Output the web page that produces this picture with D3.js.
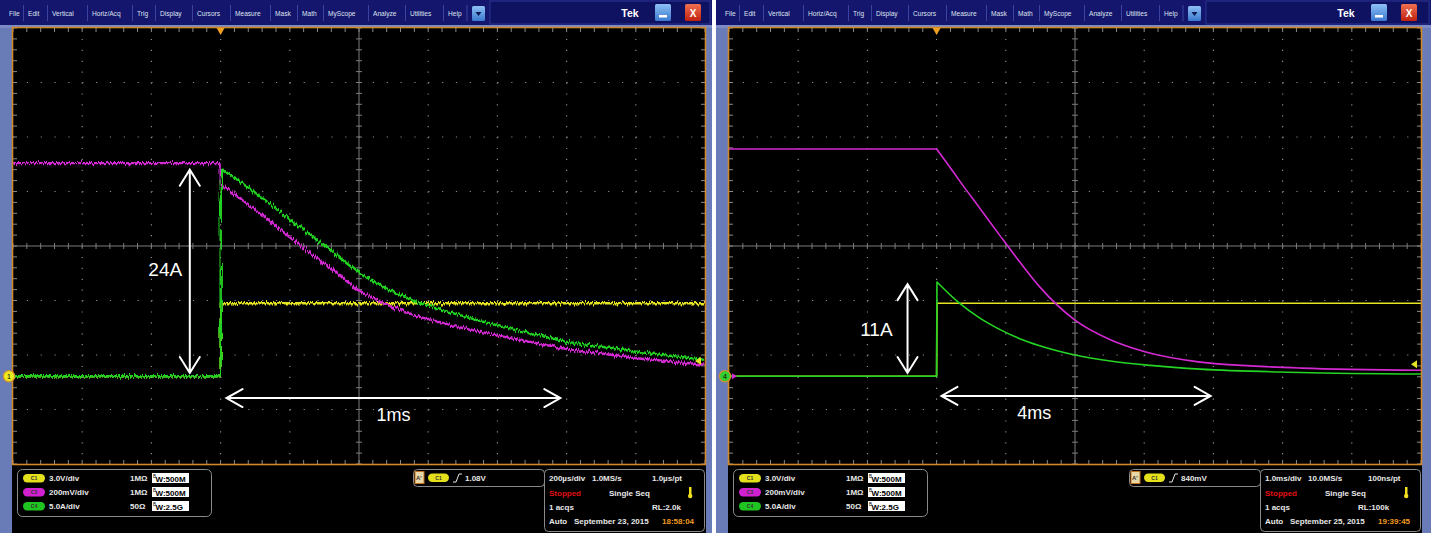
<!DOCTYPE html>
<html><head><meta charset="utf-8">
<script src="https://cdn.jsdelivr.net/npm/d3@7"></script>
<style>body{margin:0;background:#fff;}svg{display:block}</style>
</head><body>
<svg id="c" width="1431" height="533"></svg>
<script>
// ---------------- DATA ----------------
const menuItems = ["File","Edit","Vertical","Horiz/Acq","Trig","Display","Cursors","Measure","Mask","Math","MyScope","Analyze","Utilities","Help"];
const chanNames = ["C1","C3","C4"];
const chanScales = ["3.0V/div","200mV/div","5.0A/div"];
const chanImpedance = ["1MΩ","1MΩ","50Ω"];
const chanBW = ["500M","500M","2.5G"];

// screen 1 (time in µs, values in divisions from centre)
const s1Yellow  = [[-600,-2.39],[0,-2.39],[0.5,-1.05],[1400,-1.05]];
const s1Magenta = [[-600,1.52],[0,1.52],[0.5,1.14],[20,1.04],[113,0.61],[202,0.15],[315,-0.39],[401,-0.83],[488,-1.10],[574,-1.30],[690,-1.49],[805,-1.65],[1001,-1.89],[1203,-2.06],[1400,-2.18]];
const s1Green   = [[-600,-2.39],[0,-2.39],[0.5,1.20],[10,1.40],[113,0.92],[202,0.48],[315,-0.07],[401,-0.50],[488,-0.81],[574,-1.05],[690,-1.27],[805,-1.47],[1001,-1.76],[1203,-1.94],[1400,-2.09]];
// screen 2 (time in ms)
const s2Yellow  = [[-3,-2.39],[0,-2.39],[0.005,-1.05],[7,-1.05]];
const s2Magenta = [[-3,1.78],[0,1.78],[0,1.78],[0.19,1.45],[0.33,1.20],[0.62,0.70],[0.91,0.20],[1.20,-0.29],[1.49,-0.75],[2.0,-1.36],[2.51,-1.72],[3.01,-1.94],[3.81,-2.13],[4.54,-2.20],[5.26,-2.24],[7.0,-2.28]];
const s2Green   = [[-3,-2.39],[0,-2.39],[0.005,-0.66],[0.33,-1.05],[0.62,-1.32],[0.91,-1.53],[1.20,-1.70],[1.49,-1.83],[2.0,-2.0],[2.51,-2.11],[3.09,-2.19],[3.81,-2.26],[5.26,-2.32],[7.0,-2.35]];

const screens = [
  {ox:0, w:712, divT:200, noisy:true,
   yellow:s1Yellow, magenta:s1Magenta, green:s1Green,
   marker:{label:"1", color:"#ecec20", level:-2.39, arrow:false}, trigLevel:-2.11,
   vArrow:{t:-89, v0:1.40, v1:-2.33}, vLabel:{t:-160, v:-0.55, text:"24A"},
   hArrow:{t0:17, t1:982, v:-2.79}, hLabel:{t:500, v:-3.22, text:"1ms"},
   trig:"1.08V", tb:["200µs/div","1.0MS/s","1.0µs/pt"], rl:"RL:2.0k",
   date:"September 23, 2015", time:"18:58:04"},
  {ox:716, w:715, divT:1, noisy:false,
   yellow:s2Yellow, magenta:s2Magenta, green:s2Green,
   marker:{label:"4", color:"#30d030", level:-2.39, arrow:true}, trigLevel:-2.17,
   vArrow:{t:-0.42, v0:-0.70, v1:-2.33}, vLabel:{t:-0.87, v:-1.65, text:"11A"},
   hArrow:{t0:0.07, t1:3.96, v:-2.75}, hLabel:{t:1.41, v:-3.17, text:"4ms"},
   trig:"840mV", tb:["1.0ms/div","10.0MS/s","100ns/pt"], rl:"RL:100k",
   date:"September 25, 2015", time:"19:39:45"}
];

// ---------------- STYLE / LAYOUT ----------------
const menuX = [9,28,52,92,137,160,197,235,275,302,328,373,410,448];
const FONT = "'Liberation Sans', Arial, sans-serif";
const svg = d3.select("#c");
svg.append("rect").attr("width",1431).attr("height",533).attr("fill","#fff");
const defs = svg.append("defs");
const f = defs.append("filter").attr("id","jit").attr("filterUnits","userSpaceOnUse")
  .attr("x",0).attr("y",20).attr("width",720).attr("height",450);
f.append("feTurbulence").attr("type","fractalNoise").attr("baseFrequency","0.75 0.05")
  .attr("numOctaves",2).attr("seed",4).attr("result","n");
f.append("feDisplacementMap").attr("in","SourceGraphic").attr("in2","n").attr("scale",6.5)
  .attr("xChannelSelector","B").attr("yChannelSelector","G");
const gb = defs.append("linearGradient").attr("id","btnBlue").attr("x1",0).attr("y1",0).attr("x2",0).attr("y2",1);
gb.append("stop").attr("offset",0).attr("stop-color","#8ec0f4");
gb.append("stop").attr("offset",1).attr("stop-color","#3a78d0");
const gr = defs.append("linearGradient").attr("id","btnRed").attr("x1",0).attr("y1",0).attr("x2",0).attr("y2",1);
gr.append("stop").attr("offset",0).attr("stop-color","#f07050");
gr.append("stop").attr("offset",1).attr("stop-color","#c02010");

const pillColors = ["#e4e01c","#d020d0","#20c420"];

screens.forEach(S => {
  const g = svg.append("g").attr("transform",`translate(${S.ox},0)`);
  const W = S.w;
  const pl = 13, pr = 13+692, pt = 28, pb = 464;
  // frame
  g.append("rect").attr("width",W).attr("height",533).attr("fill","#6a7cb8");
  g.append("rect").attr("x",12).attr("y",464).attr("width",pr-11).attr("height",69).attr("fill","#000");
  // menu bar
  g.append("rect").attr("width",W).attr("height",25).attr("fill","#13166c");
  g.append("rect").attr("x",0).attr("y",25).attr("width",W).attr("height",3).attr("fill","#7d8cc6");
  g.append("rect").attr("x",490).attr("y",1).attr("width",W-492).attr("height",23).attr("fill","#0f1260").attr("stroke","#2c3590").attr("stroke-width",1);
  menuItems.forEach((m,i)=>{
    g.append("text").attr("x",menuX[i]).attr("y",15.5).attr("font-family",FONT).attr("font-size",6.6)
      .attr("fill","#dfe2f0").text(m);
    if(i>0) g.append("line").attr("x1",menuX[i]-4.5).attr("x2",menuX[i]-4.5).attr("y1",5).attr("y2",21)
      .attr("stroke","#3a44a0").attr("stroke-width",1);
  });
  g.append("line").attr("x1",467).attr("x2",467).attr("y1",5).attr("y2",21).attr("stroke","#3a44a0");
  g.append("rect").attr("x",472).attr("y",6).attr("width",13).attr("height",15).attr("rx",1.5).attr("fill","url(#btnBlue)");
  g.append("path").attr("d","M475.5,12 L481.5,12 L478.5,16 Z").attr("fill","#0a1a50");
  g.append("text").attr("x",630).attr("y",17).attr("text-anchor","middle").attr("font-family",FONT)
    .attr("font-weight","bold").attr("font-size",10.5).attr("fill","#fff").text("Tek");
  g.append("rect").attr("x",655).attr("y",4).attr("width",16).attr("height",17).attr("rx",1.5).attr("fill","url(#btnBlue)");
  g.append("rect").attr("x",659).attr("y",15).attr("width",8).attr("height",2.5).attr("fill","#fff");
  g.append("rect").attr("x",685).attr("y",4).attr("width",16).attr("height",17).attr("rx",1.5).attr("fill","url(#btnRed)");
  g.append("text").attr("x",693).attr("y",16.5).attr("text-anchor","middle").attr("font-family",FONT)
    .attr("font-weight","bold").attr("font-size",10).attr("fill","#fff").text("X");

  // plot
  g.append("rect").attr("x",pl).attr("y",pt).attr("width",pr-pl).attr("height",pb-pt).attr("fill","#000");
  const x = d3.scaleLinear().domain([-3*S.divT, 7*S.divT]).range([pl,pr]);
  const y = d3.scaleLinear().domain([-4,4]).range([pb,pt]);
  const minorX = d3.range(-15,36).map(k=>k*S.divT/5);
  const minorY = d3.range(-20,21).map(k=>k/5);
  const grid = g.append("g");
  // dotted major grid
  d3.range(-3,8).forEach(k=>{
    if(k===-3||k===7||k===2) return;
    grid.append("line").attr("x1",x(k*S.divT)).attr("x2",x(k*S.divT)).attr("y1",pt).attr("y2",pb)
      .attr("stroke","#8a8a8a").attr("stroke-width",1.2).attr("stroke-dasharray",`1.2 ${(pb-pt)/40-1.2}`);
  });
  d3.range(-4,5).forEach(k=>{
    if(k===-4||k===4||k===0) return;
    grid.append("line").attr("x1",pl).attr("x2",pr).attr("y1",y(k)).attr("y2",y(k))
      .attr("stroke","#8a8a8a").attr("stroke-width",1.2).attr("stroke-dasharray",`1.2 ${(pr-pl)/50-1.2}`);
  });
  // centre cross
  grid.append("line").attr("x1",pl).attr("x2",pr).attr("y1",y(0)).attr("y2",y(0)).attr("stroke","#7c7c7c");
  grid.append("line").attr("x1",x(2*S.divT)).attr("x2",x(2*S.divT)).attr("y1",pt).attr("y2",pb).attr("stroke","#7c7c7c");
  minorX.forEach(t=>{
    grid.append("line").attr("x1",x(t)).attr("x2",x(t)).attr("y1",y(0)-3).attr("y2",y(0)+3).attr("stroke","#7c7c7c");
    grid.append("line").attr("x1",x(t)).attr("x2",x(t)).attr("y1",pt).attr("y2",pt+4).attr("stroke","#8a8a8a");
    grid.append("line").attr("x1",x(t)).attr("x2",x(t)).attr("y1",pb-4).attr("y2",pb).attr("stroke","#8a8a8a");
  });
  minorY.forEach(v=>{
    grid.append("line").attr("x1",x(2*S.divT)-3).attr("x2",x(2*S.divT)+3).attr("y1",y(v)).attr("y2",y(v)).attr("stroke","#7c7c7c");
    grid.append("line").attr("x1",pl).attr("x2",pl+4).attr("y1",y(v)).attr("y2",y(v)).attr("stroke","#8a8a8a");
    grid.append("line").attr("x1",pr-4).attr("x2",pr).attr("y1",y(v)).attr("y2",y(v)).attr("stroke","#8a8a8a");
  });

  // traces: linear up to the step, smooth afterwards
  const lin = d3.line().x(d=>x(d[0])).y(d=>y(d[1]));
  const smooth = d3.line().x(d=>x(d[0])).y(d=>y(d[1])).curve(S.noisy? d3.curveLinear : d3.curveMonotoneX);
  const tg = g.append("g");
  if(S.noisy) tg.attr("filter","url(#jit)");
  const sw = S.noisy ? 2.4 : 1.6;
  [[S.yellow,"#e6e422"],[S.magenta,"#d42ad4"],[S.green,"#24d424"]].forEach(([pts,col])=>{
    const pre = pts.slice(0,3), post = pts.slice(2);
    tg.append("path").attr("d",lin(pre)+smooth(post).replace(/^M/,"L")).attr("fill","none")
      .attr("stroke",col).attr("stroke-width",sw).attr("stroke-linejoin","round");
  });

  // border
  g.append("rect").attr("x",pl-0.5).attr("y",pt-0.5).attr("width",pr-pl+1).attr("height",pb-pt+1)
    .attr("fill","none").attr("stroke","#d0882a").attr("stroke-width",1.6);
  // trigger position marker
  const tx = x(0);
  g.append("path").attr("d",`M${tx-4},${pt} L${tx+4},${pt} L${tx},${pt+7} Z`).attr("fill","#f0a020");
  // trigger level marker
  const ty = y(S.trigLevel);
  g.append("path").attr("d",`M${pr-4},${ty-4} L${pr-4},${ty+4} L${pr-10},${ty} Z`).attr("fill","#e6e422");
  // channel marker
  const my = y(S.marker.level);
  if(S.marker.arrow) g.append("path").attr("d",`M${pl+3},${my-3} L${pl+3},${my+3} L${pl+8},${my} Z`).attr("fill","#d42ad4");
  g.append("circle").attr("cx",pl-4).attr("cy",my).attr("r",5.6).attr("fill",S.marker.color).attr("stroke","#d09030").attr("stroke-width",1.2);
  g.append("text").attr("x",pl-4).attr("y",my+2.5).attr("text-anchor","middle").attr("font-family",FONT)
    .attr("font-size",7).attr("fill","#000").text(S.marker.label);

  // annotations
  const ag = g.append("g").attr("stroke","#fff").attr("stroke-width",2).attr("fill","none").attr("stroke-linecap","round");
  const ax = x(S.vArrow.t), ay0 = y(S.vArrow.v0), ay1 = y(S.vArrow.v1);
  ag.append("path").attr("d",`M${ax},${ay0} L${ax},${ay1} M${ax-10},${ay0+16} L${ax},${ay0} L${ax+10},${ay0+16} M${ax-10},${ay1-16} L${ax},${ay1} L${ax+10},${ay1-16}`);
  const hx0 = x(S.hArrow.t0), hx1 = x(S.hArrow.t1), hy = y(S.hArrow.v);
  ag.append("path").attr("d",`M${hx0},${hy} L${hx1},${hy} M${hx0+16},${hy-9} L${hx0},${hy} L${hx0+16},${hy+9} M${hx1-16},${hy-9} L${hx1},${hy} L${hx1-16},${hy+9}`);
  g.append("text").attr("x",x(S.vLabel.t)).attr("y",y(S.vLabel.v)).attr("text-anchor","middle")
    .attr("font-family",FONT).attr("font-size",19).attr("fill","#fff").text(S.vLabel.text);
  g.append("text").attr("x",x(S.hLabel.t)).attr("y",y(S.hLabel.v)).attr("text-anchor","middle")
    .attr("font-family",FONT).attr("font-size",18).attr("fill","#fff").text(S.hLabel.text);

  // ---- bottom info ----
  const ig = g.append("g").attr("font-family",FONT).attr("font-weight","bold").attr("font-size",8).attr("fill","#e8e8e8");
  ig.append("rect").attr("x",17.5).attr("y",469.5).attr("width",194).attr("height",47).attr("rx",5)
    .attr("fill","#000").attr("stroke","#8a8a8a");
  const rowsY = [478,492,506];
  chanNames.forEach((c,i)=>{
    const ry = rowsY[i];
    ig.append("rect").attr("x",23).attr("y",ry-4).attr("width",22).attr("height",8.5).attr("rx",4.2).attr("fill",pillColors[i]);
    ig.append("text").attr("x",34).attr("y",ry+2).attr("text-anchor","middle").attr("font-size",5).attr("fill","#333").text(c);
    ig.append("text").attr("x",49).attr("y",ry+3).text(chanScales[i]);
    ig.append("text").attr("x",130).attr("y",ry+3).text(chanImpedance[i]);
    ig.append("rect").attr("x",152).attr("y",ry-5).attr("width",37).attr("height",10).attr("fill","#fff");
    ig.append("text").attr("x",153).attr("y",ry-0.5).attr("font-size",4.5).attr("font-weight","normal").attr("fill","#000").text("B");
    ig.append("text").attr("x",155.5).attr("y",ry+3.5).attr("fill","#000").text("W:"+chanBW[i]);
  });
  // trigger box
  ig.append("rect").attr("x",413.5).attr("y",469.5).attr("width",131).attr("height",17).attr("rx",4).attr("fill","#000").attr("stroke","#8a8a8a");
  ig.append("rect").attr("x",415).attr("y",471.5).attr("width",9).attr("height",12).attr("fill","#e8d8a8").attr("stroke","#c07020");
  ig.append("text").attr("x",416).attr("y",480).attr("font-size",6).attr("fill","#333").text("A'");
  ig.append("rect").attr("x",428).attr("y",473.5).attr("width",21).attr("height",8.5).attr("rx",4.2).attr("fill",pillColors[0]);
  ig.append("text").attr("x",438.5).attr("y",480).attr("text-anchor","middle").attr("font-size",5).attr("fill","#333").text("C1");
  ig.append("path").attr("d","M453,482 L456,482 L459,474 L462,474").attr("fill","none").attr("stroke","#e8e8e8").attr("stroke-width",1);
  ig.append("text").attr("x",465).attr("y",481).text(S.trig);
  // timebase box
  ig.append("rect").attr("x",544.5).attr("y",469.5).attr("width",160).attr("height",62).attr("rx",4).attr("fill","#000").attr("stroke","#8a8a8a");
  const ox = [549,592,652];
  S.tb.forEach((t,i)=>ig.append("text").attr("x",ox[i]).attr("y",481).text(t));
  ig.append("text").attr("x",549).attr("y",496).attr("fill","#e01010").text("Stopped");
  ig.append("text").attr("x",609).attr("y",496).text("Single Seq");
  ig.append("rect").attr("x",689).attr("y",487).attr("width",2.5).attr("height",8).attr("fill","#f0e020");
  ig.append("circle").attr("cx",690.2).attr("cy",496).attr("r",2.2).attr("fill","#f0e020");
  ig.append("text").attr("x",549).attr("y",510).text("1 acqs");
  ig.append("text").attr("x",S.ox? 642:652).attr("y",510).text(S.rl);
  ig.append("text").attr("x",549).attr("y",524).text("Auto");
  ig.append("text").attr("x",574).attr("y",524).text(S.date);
  ig.append("text").attr("x",662).attr("y",524).attr("fill","#f09a20").text(S.time);
});
</script>
</body></html>
